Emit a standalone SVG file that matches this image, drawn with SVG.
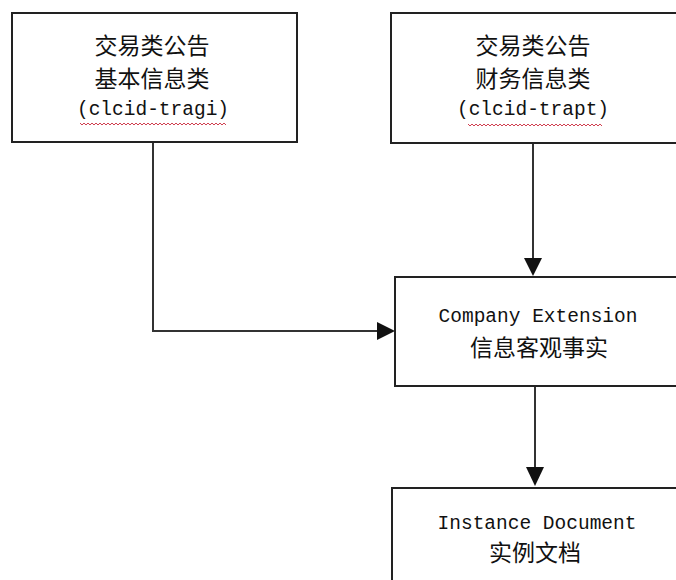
<svg xmlns="http://www.w3.org/2000/svg" width="676" height="580" viewBox="0 0 676 580">
<style>
.box{fill:#fff;stroke:#222;stroke-width:2}
.cjk{font-family:"Noto Sans CJK SC","Noto Sans",sans-serif;font-size:23px;fill:#111;text-anchor:middle}
.mono{font-family:"Liberation Mono","DejaVu Sans Mono",monospace;font-size:19.5px;fill:#111;text-anchor:middle}
.conn{fill:none;stroke:#333;stroke-width:2}
.wavy{fill:none;stroke:#d04050;stroke-width:1}
</style>
<rect width="676" height="580" fill="#fff"/>
<g id="connectors">
<path class="conn" d="M533,143 L533,258" />
<path d="M524,258 L542,258 L533,276 z" fill="#111"/>
<path class="conn" d="M153,142 L153,331 L377,331" />
<path d="M377,322 L377,340 L395,331 z" fill="#111"/>
<path class="conn" d="M535,386 L535,467" />
<path d="M526,467 L544,467 L535,486 z" fill="#111"/>
</g>
<g id="node1">
<rect class="box" x="12" y="13" width="285" height="129"/>
<text class="cjk" x="152" y="54">交易类公告</text>
<text class="cjk" x="152" y="87">基本信息类</text>
<text class="mono" x="153" y="115">(clcid-tragi)</text>
<path class="wavy" d="M80,123 l2,2 l2,-2 l2,2 l2,-2 l2,2 l2,-2 l2,2 l2,-2 l2,2 l2,-2 l2,2 l2,-2 l2,2 l2,-2 l2,2 l2,-2 l2,2 l2,-2 l2,2 l2,-2 l2,2 l2,-2 l2,2 l2,-2 l2,2 l2,-2 l2,2 l2,-2 l2,2 l2,-2 l2,2 l2,-2 l2,2 l2,-2 l2,2 l2,-2 l2,2 l2,-2 l2,2 l2,-2 l2,2 l2,-2 l2,2 l2,-2 l2,2 l2,-2 l2,2 l2,-2 l2,2 l2,-2 l2,2 l2,-2 l2,2 l2,-2 l2,2 l2,-2 l2,2 l2,-2 l2,2 l2,-2 l2,2 l2,-2 l2,2 l2,-2 l2,2 l2,-2 l2,2 l2,-2 l2,2 l2,-2 l2,2 l2,-2 l2,2"/>
</g>
<g id="node2">
<rect class="box" x="391" y="13" width="300" height="130"/>
<text class="cjk" x="533" y="54">交易类公告</text>
<text class="cjk" x="533" y="87">财务信息类</text>
<text class="mono" x="533" y="115">(clcid-trapt)</text>
<path class="wavy" d="M468,124 l2,2 l2,-2 l2,2 l2,-2 l2,2 l2,-2 l2,2 l2,-2 l2,2 l2,-2 l2,2 l2,-2 l2,2 l2,-2 l2,2 l2,-2 l2,2 l2,-2 l2,2 l2,-2 l2,2 l2,-2 l2,2 l2,-2 l2,2 l2,-2 l2,2 l2,-2 l2,2 l2,-2 l2,2 l2,-2 l2,2 l2,-2 l2,2 l2,-2 l2,2 l2,-2 l2,2 l2,-2 l2,2 l2,-2 l2,2 l2,-2 l2,2 l2,-2 l2,2 l2,-2 l2,2 l2,-2 l2,2 l2,-2 l2,2 l2,-2 l2,2 l2,-2 l2,2 l2,-2 l2,2 l2,-2 l2,2 l2,-2 l2,2 l2,-2 l2,2 l2,-2 l2,2"/>
</g>
<g id="node3">
<rect class="box" x="395" y="277" width="300" height="109"/>
<text class="mono" x="538" y="322">Company Extension</text>
<text class="cjk" x="539" y="356">信息客观事实</text>
</g>
<g id="node4">
<rect class="box" x="392" y="488" width="300" height="110"/>
<text class="mono" x="537" y="529">Instance Document</text>
<text class="cjk" x="535" y="561">实例文档</text>
</g>
</svg>
